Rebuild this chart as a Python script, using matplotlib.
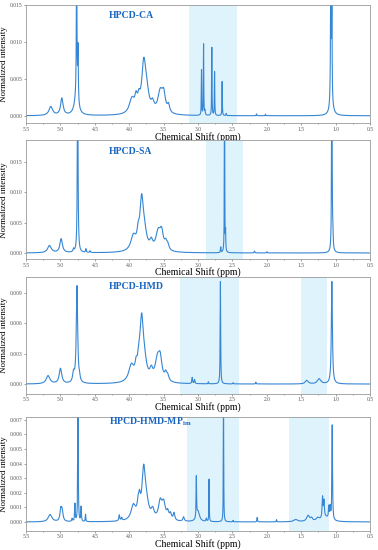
import numpy as np
import matplotlib.pyplot as plt

plt.rcParams['font.family'] = ['Liberation Serif', 'DejaVu Serif']
plt.rcParams['mathtext.fontset'] = 'custom'
plt.rcParams['mathtext.bf'] = 'Liberation Serif:bold'
plt.rcParams['mathtext.rm'] = 'Liberation Serif'

# Peak lists: shift (ppm), height, half width (ppm)
ca_shift = [5.14, 4.98, 4.765, 4.745, 4.77, 3.96, 3.90, 3.86, 3.79, 3.75, 3.66, 3.55, 3.50, 3.43,
            2.95, 2.92, 2.90, 2.80, 2.76, 2.65, 2.59, 2.15, 2.02, 1.07, 1.055, 1.06]
ca_height = [0.0012, 0.0023, 0.02, 0.0072, 0.0022, 0.002, 0.0016, 0.0014, 0.0062, 0.0025, 0.0011, 0.0028, 0.0024, 0.001,
             0.0061, 0.0096, 0.0006, 0.0092, 0.0059, 0.0046, 0.0003, 0.00025, 0.0002, 0.022, 0.0125, 0.0014]
ca_width = [0.032, 0.022, 0.005, 0.005, 0.035, 0.045, 0.02, 0.02, 0.035, 0.04, 0.025, 0.04, 0.03, 0.02,
            0.003, 0.003, 0.005, 0.003, 0.003, 0.003, 0.004, 0.004, 0.004, 0.005, 0.004, 0.03]

sa_shift = [5.16, 4.99, 4.81, 4.75, 4.63, 4.57, 3.94, 3.87, 3.82, 3.78, 3.68, 3.58, 3.53, 3.47, 3.44,
            2.67, 2.615, 2.60, 2.18, 2.00, 1.055, 1.04]
sa_height = [0.0012, 0.0023, 0.0005, 0.03, 0.0006, 0.0003, 0.0024, 0.002, 0.0078, 0.0025, 0.0013, 0.003, 0.0028, 0.0011, 0.0009,
             0.0009, 0.03, 0.003, 0.0003, 0.0002, 0.03, 0.0025]
sa_width = [0.032, 0.022, 0.008, 0.006, 0.006, 0.006, 0.045, 0.02, 0.03, 0.04, 0.025, 0.04, 0.03, 0.02, 0.02,
            0.004, 0.003, 0.003, 0.006, 0.005, 0.005, 0.004]

hmd_shift = [5.18, 5.00, 4.81, 4.76, 4.72, 3.97, 3.90, 3.86, 3.82, 3.78, 3.68, 3.59, 3.55, 3.47, 3.44,
             3.085, 3.05, 2.85, 2.675, 2.49, 2.16, 1.42, 1.24, 1.055]
hmd_height = [0.0008, 0.0015, 0.0009, 0.0096, 0.0003, 0.0016, 0.0011, 0.0013, 0.0057, 0.0015, 0.0009, 0.0021, 0.0019, 0.0007, 0.0005,
              0.0006, 0.0004, 0.0002, 0.0101, 0.00012, 0.00018, 0.00035, 0.0005, 0.0101]
hmd_width = [0.032, 0.022, 0.015, 0.012, 0.008, 0.045, 0.02, 0.02, 0.03, 0.04, 0.025, 0.04, 0.03, 0.02, 0.02,
             0.006, 0.006, 0.004, 0.004, 0.004, 0.005, 0.025, 0.03, 0.009]

mp_shift = [5.15, 4.995, 4.975, 4.83, 4.79, 4.745, 4.70, 4.635, 4.145, 4.11, 3.94, 3.87, 3.85, 3.79, 3.75, 3.66,
            3.55, 3.50, 3.44, 3.40, 3.35, 3.21, 3.025, 3.00, 2.88, 2.84, 2.63, 2.49, 2.14, 1.86,
            1.58, 1.40, 1.35, 1.26, 1.19, 1.17, 1.10, 1.08, 1.05, 1.15]
mp_height = [0.0005, 0.0008, 0.0007, 0.0002, 0.0012, 0.009, 0.001, 0.0005, 0.0004, 0.0002, 0.001, 0.0008, 0.0009, 0.0033, 0.0009, 0.0006,
             0.0012, 0.0011, 0.0005, 0.0004, 0.0005, 0.0003, 0.0028, 0.0007, 0.0002, 0.0029, 0.009, 0.0001, 0.0003, 0.00015,
             0.00015, 0.0004, 0.0002, 0.0002, 0.0014, 0.0011, 0.0008, 0.0008, 0.0065, 0.0003]
mp_width = [0.032, 0.014, 0.014, 0.006, 0.005, 0.004, 0.005, 0.004, 0.008, 0.008, 0.04, 0.018, 0.015, 0.03, 0.04, 0.025,
            0.03, 0.03, 0.018, 0.015, 0.014, 0.012, 0.004, 0.025, 0.006, 0.003, 0.003, 0.004, 0.004, 0.004,
            0.035, 0.025, 0.018, 0.025, 0.007, 0.007, 0.006, 0.006, 0.005, 0.07]

titles = ['HPCD-CA', 'HPCD-SA', 'HPCD-HMD', r'HPCD-HMD-MP$_{\mathbf{im}}$']
shaded = [[(3.13, 2.44)], [(2.88, 2.35)], [(3.26, 2.41), (1.50, 1.13)], [(3.16, 2.41), (1.68, 1.10)]]
y_limits = [(-0.001, 0.015), (-0.001, 0.0186), (-0.00096, 0.0106), (-0.0006, 0.0072)]
y_ticks = [[0, 0.005, 0.010, 0.015], [0, 0.005, 0.010, 0.015], [0, 0.003, 0.006, 0.009],
           [0, 0.001, 0.002, 0.003, 0.004, 0.005, 0.006, 0.007]]
spectra = [(ca_shift, ca_height, ca_width), (sa_shift, sa_height, sa_width),
           (hmd_shift, hmd_height, hmd_width), (mp_shift, mp_height, mp_width)]

x = np.linspace(0.5, 5.5, 20001)

fig = plt.figure(figsize=(3.78, 5.5), dpi=100)
boxes = [(0.991, 0.776), (0.745, 0.529), (0.497, 0.284), (0.242, 0.035)]
title_y = [0.915, 0.907, 0.92, 0.956]

for i in range(4):
    top, bottom = boxes[i]
    ax = fig.add_axes([0.069, bottom, 0.91, top - bottom])
    pos, h, w = spectra[i]
    y = np.zeros_like(x)
    for p, hh, ww in zip(pos, h, w):
        y += hh * ww**2 / ((x - p)**2 + ww**2)
    for a, b in shaded[i]:
        ax.axvspan(b, a, color='#dff3fc', lw=0, zorder=0)
    ax.plot(x, y, color='#3686d4', lw=0.8, zorder=2)
    ax.set_xlim(5.5, 0.5)
    ax.set_ylim(*y_limits[i])
    ax.set_xticks(np.arange(0.5, 5.51, 0.5))
    ax.set_xticks(np.arange(0.5, 5.51, 0.25), minor=True)
    ax.set_yticks(y_ticks[i])
    ax.set_yticklabels(['%.3f' % v for v in y_ticks[i]])
    ax.tick_params(labelsize=4, length=1.5, width=0.4, pad=1, colors='#555555')
    ax.tick_params(which='minor', length=1, width=0.4, colors='#555555')
    for s in ax.spines.values():
        s.set_color('#9a9a9a')
        s.set_linewidth(0.6)
    ax.set_xlabel('Chemical Shift (ppm)', fontsize=7, labelpad=0)
    ax.set_ylabel('Normalized intensity', fontsize=6.5, labelpad=1)
    ax.text(0.241, title_y[i], titles[i], transform=ax.transAxes, fontsize=7,
            fontweight='bold', color='#1a66c0', va='center', ha='left')

fig.savefig('out.png', dpi=100)
